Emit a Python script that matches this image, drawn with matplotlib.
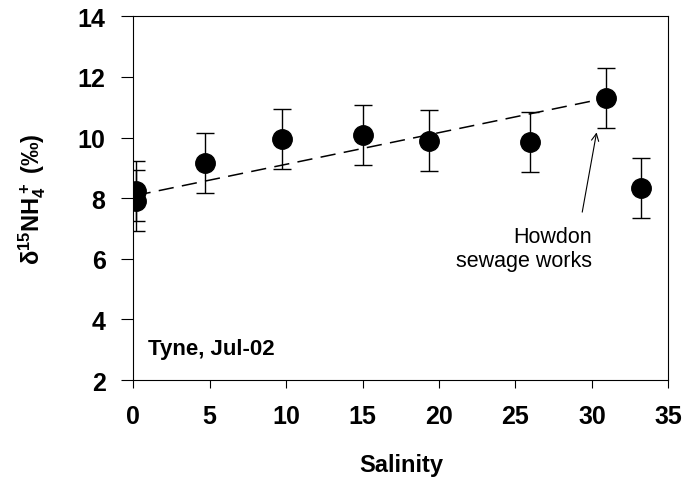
import numpy as np
import matplotlib
matplotlib.use("Agg")
import matplotlib.pyplot as plt

plt.rcParams['font.family'] = ['Liberation Sans', 'DejaVu Sans']
plt.rcParams['mathtext.fontset'] = 'custom'
plt.rcParams['mathtext.rm'] = 'Liberation Sans:bold'
plt.rcParams['mathtext.bf'] = 'Liberation Sans:bold'
plt.rcParams['mathtext.default'] = 'bf'
plt.rcParams['lines.scale_dashes'] = False

# data
salinity = [0.15, 0.15, 4.7, 9.75, 15.0, 19.35, 25.95, 30.9, 33.2]
d15n = [8.24, 7.92, 9.16, 9.95, 10.08, 9.90, 9.86, 11.30, 8.33]
err = [1.0, 1.0, 1.0, 1.0, 1.0, 1.0, 1.0, 1.0, 1.0]

# dashed trend line end points
trend_x = [0.15, 30.9]
trend_y = [8.09, 11.30]

xticks = [0, 5, 10, 15, 20, 25, 30, 35]
yticks = [2, 4, 6, 8, 10, 12, 14]

fig = plt.figure(figsize=(6.85, 4.81), dpi=100)
ax = fig.add_axes([0.1946, 0.2079, 0.781, 0.756])

ax.plot(trend_x, trend_y, color='black', lw=1.1, dashes=(11, 6), zorder=2)
ax.errorbar(salinity, d15n, yerr=err, fmt='o', color='black', ms=14,
            ecolor='black', elinewidth=1.0, capsize=6.5, capthick=1.0, zorder=3)

# annotation
ax.annotate('', xy=(30.31, 10.17), xytext=(29.37, 7.54),
            arrowprops=dict(arrowstyle='->', color='black', lw=0.8,
                            mutation_scale=13, shrinkA=0, shrinkB=0))
ax.text(30.0, 6.55, 'Howdon', ha='right', va='baseline', fontsize=15.5)
ax.text(30.0, 5.77, 'sewage works', ha='right', va='baseline', fontsize=15.5)
ax.text(0.96, 2.86, 'Tyne, Jul-02', ha='left', va='baseline',
        fontsize=16, fontweight='bold')

ax.set_xlim(0, 35)
ax.set_ylim(2, 14)
ax.set_xticks(xticks)
ax.set_yticks(yticks)
ax.tick_params(axis='x', direction='out', length=6, width=0.8, pad=11,
               labelsize=18)
ax.tick_params(axis='y', direction='out', length=9, width=0.8, pad=11,
               labelsize=18)
for lab in ax.get_xticklabels() + ax.get_yticklabels():
    lab.set_fontweight('bold')
for sp in ax.spines.values():
    sp.set_linewidth(0.8)

ax.set_xlabel('Salinity', fontsize=17, fontweight='bold')
ax.xaxis.set_label_coords(0.5, -0.2)
ax.set_ylabel('δ$^{15}$NH$_4^+$ (‰)', fontsize=17, fontweight='bold')
ax.yaxis.set_label_coords(-0.16, 0.5)

fig.savefig('out.png', dpi=100)
